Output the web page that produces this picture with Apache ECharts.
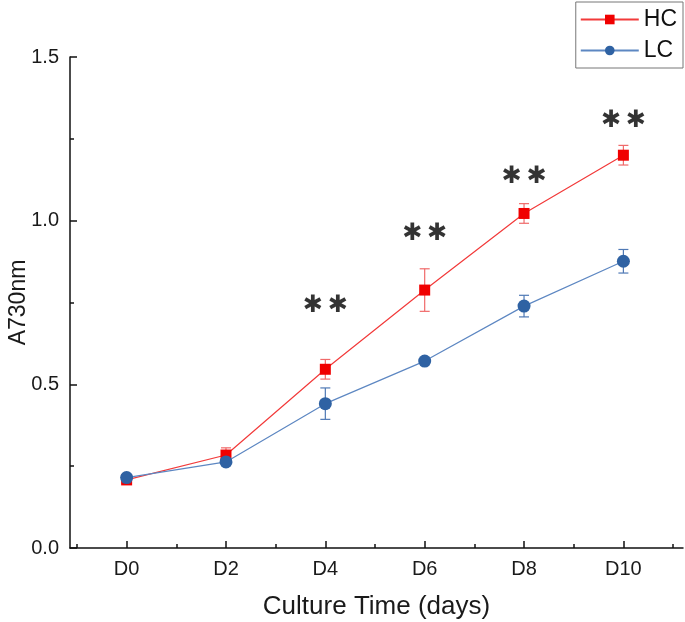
<!DOCTYPE html>
<html>
<head>
<meta charset="utf-8">
<script src="https://cdn.jsdelivr.net/npm/echarts@6/dist/echarts.min.js"></script>
<style>html,body{margin:0;padding:0;background:#fff}#c{width:685px;height:622px}</style>
</head>
<body>
<div id="c"></div>
<script>
var days = [0, 2, 4, 6, 8, 10];
var hcMean = [0.208, 0.284, 0.546, 0.788, 1.022, 1.200];
var hcErr  = [0.010, 0.022, 0.030, 0.065, 0.030, 0.030];
var lcMean = [0.215, 0.263, 0.441, 0.571, 0.739, 0.876];
var lcErr  = [0.008, 0.010, 0.048, 0.008, 0.033, 0.036];
var sigDays = [4, 6, 8, 10];
var sigY = [0.74, 0.96, 1.135, 1.305];
var yTicks = [0, 0.5, 1.0, 1.5];
var yMinorTicks = [0.25, 0.75, 1.25];

var HC_COLOR = '#f00000', HC_LINE = '#f23a3a', HC_ERR = '#f06a6a';
var LC_COLOR = '#2f62a3', LC_LINE = '#5d87c2', LC_ERR = '#4f79b5';

function pairs(xs, ys){ return xs.map(function(x,i){ return [x, ys[i]]; }); }
function errData(xs, m, e){ return xs.map(function(x,i){ return [x, m[i]-e[i], m[i]+e[i]]; }); }
function errRender(color){
  return function(params, api){
    var x = api.value(0);
    var lo = api.coord([x, api.value(1)]);
    var hi = api.coord([x, api.value(2)]);
    var w = 5;
    var st = {stroke: color, lineWidth: 1.2};
    return {type:'group', children:[
      {type:'line', shape:{x1:lo[0], y1:lo[1], x2:hi[0], y2:hi[1]}, style: st},
      {type:'line', shape:{x1:lo[0]-w, y1:lo[1], x2:lo[0]+w, y2:lo[1]}, style: st},
      {type:'line', shape:{x1:hi[0]-w, y1:hi[1], x2:hi[0]+w, y2:hi[1]}, style: st}
    ]};
  };
}
var minorX = [];
for (var k = -1; k <= 11; k += 2) minorX.push(k);

var chart = echarts.init(document.getElementById('c'));
chart.setOption({
  animation:false,
  grid:{left:70, right:2, top:57, bottom:74, containLabel:false, outerBoundsMode:'none'},
  legend:{
    data:['HC','LC'], orient:'vertical', right:2, top:2,
    itemWidth:58, itemHeight:12, itemGap:8,
    borderColor:'#777', borderWidth:1, padding:[6,6,6,4],
    textStyle:{fontFamily:'Liberation Sans', fontSize:23, color:'#111'}
  },
  xAxis:[{
    type:'value', min:-1.14, max:11.2,
    name:'Culture Time (days)', nameLocation:'middle', nameGap:46, nameMoveOverlap:false,
    nameTextStyle:{fontFamily:'Liberation Sans', fontSize:26, color:'#1a1a1a'},
    axisLine:{onZero:false, lineStyle:{color:'#111', width:1.5}},
    axisTick:{inside:true, length:7, lineStyle:{color:'#111', width:1.5}, customValues: days},
    axisLabel:{customValues: days, margin:11, fontSize:20, fontFamily:'Liberation Sans', color:'#1a1a1a',
      formatter:function(v){ return 'D' + v; }},
    splitLine:{show:false}
  },{
    type:'value', min:-1.14, max:11.2, position:'bottom',
    axisLine:{show:false, onZero:false},
    axisTick:{inside:true, length:4, lineStyle:{color:'#111', width:1.5}, customValues: minorX},
    axisLabel:{show:false}, splitLine:{show:false}
  }],
  yAxis:[{
    type:'value', min:0, max:1.5,
    name:'A730nm', nameLocation:'middle', nameGap:40, nameRotate:90, nameMoveOverlap:false,
    nameTextStyle:{fontFamily:'Liberation Sans', fontSize:23, color:'#1a1a1a'},
    axisLine:{show:true, onZero:false, lineStyle:{color:'#111', width:1.5}},
    axisTick:{inside:true, length:7, lineStyle:{color:'#111', width:1.5}, customValues: yTicks},
    axisLabel:{customValues: yTicks, margin:11, fontSize:20, fontFamily:'Liberation Sans', color:'#1a1a1a',
      formatter:function(v){ return v.toFixed(1); }},
    splitLine:{show:false}
  },{
    type:'value', min:0, max:1.5, position:'left',
    axisLine:{show:false, onZero:false},
    axisTick:{inside:true, length:4, lineStyle:{color:'#111', width:1.5}, customValues: yMinorTicks},
    axisLabel:{show:false}, splitLine:{show:false}
  }],
  series:[
    {type:'custom', name:'HCerr', renderItem: errRender(HC_ERR), data: errData(days, hcMean, hcErr), z:3, silent:true},
    {type:'custom', name:'LCerr', renderItem: errRender(LC_ERR), data: errData(days, lcMean, lcErr), z:3, silent:true},
    {type:'line', name:'HC', data: pairs(days, hcMean), symbol:'rect', symbolSize:11,
      itemStyle:{color:HC_COLOR}, lineStyle:{color:HC_LINE, width:1.2}, z:4},
    {type:'line', name:'LC', data: pairs(days, lcMean), symbol:'circle', symbolSize:13,
      itemStyle:{color:LC_COLOR}, lineStyle:{color:LC_LINE, width:1.2}, z:5},
    {type:'scatter', name:'sig', data: pairs(sigDays, sigY), symbolSize:0, silent:true,
      label:{show:true, position:'inside', formatter:'\u2731\u2009\u2731', fontFamily:'DejaVu Sans',
        fontSize:24, color:'#000'}}
  ]
});
</script>
</body>
</html>
